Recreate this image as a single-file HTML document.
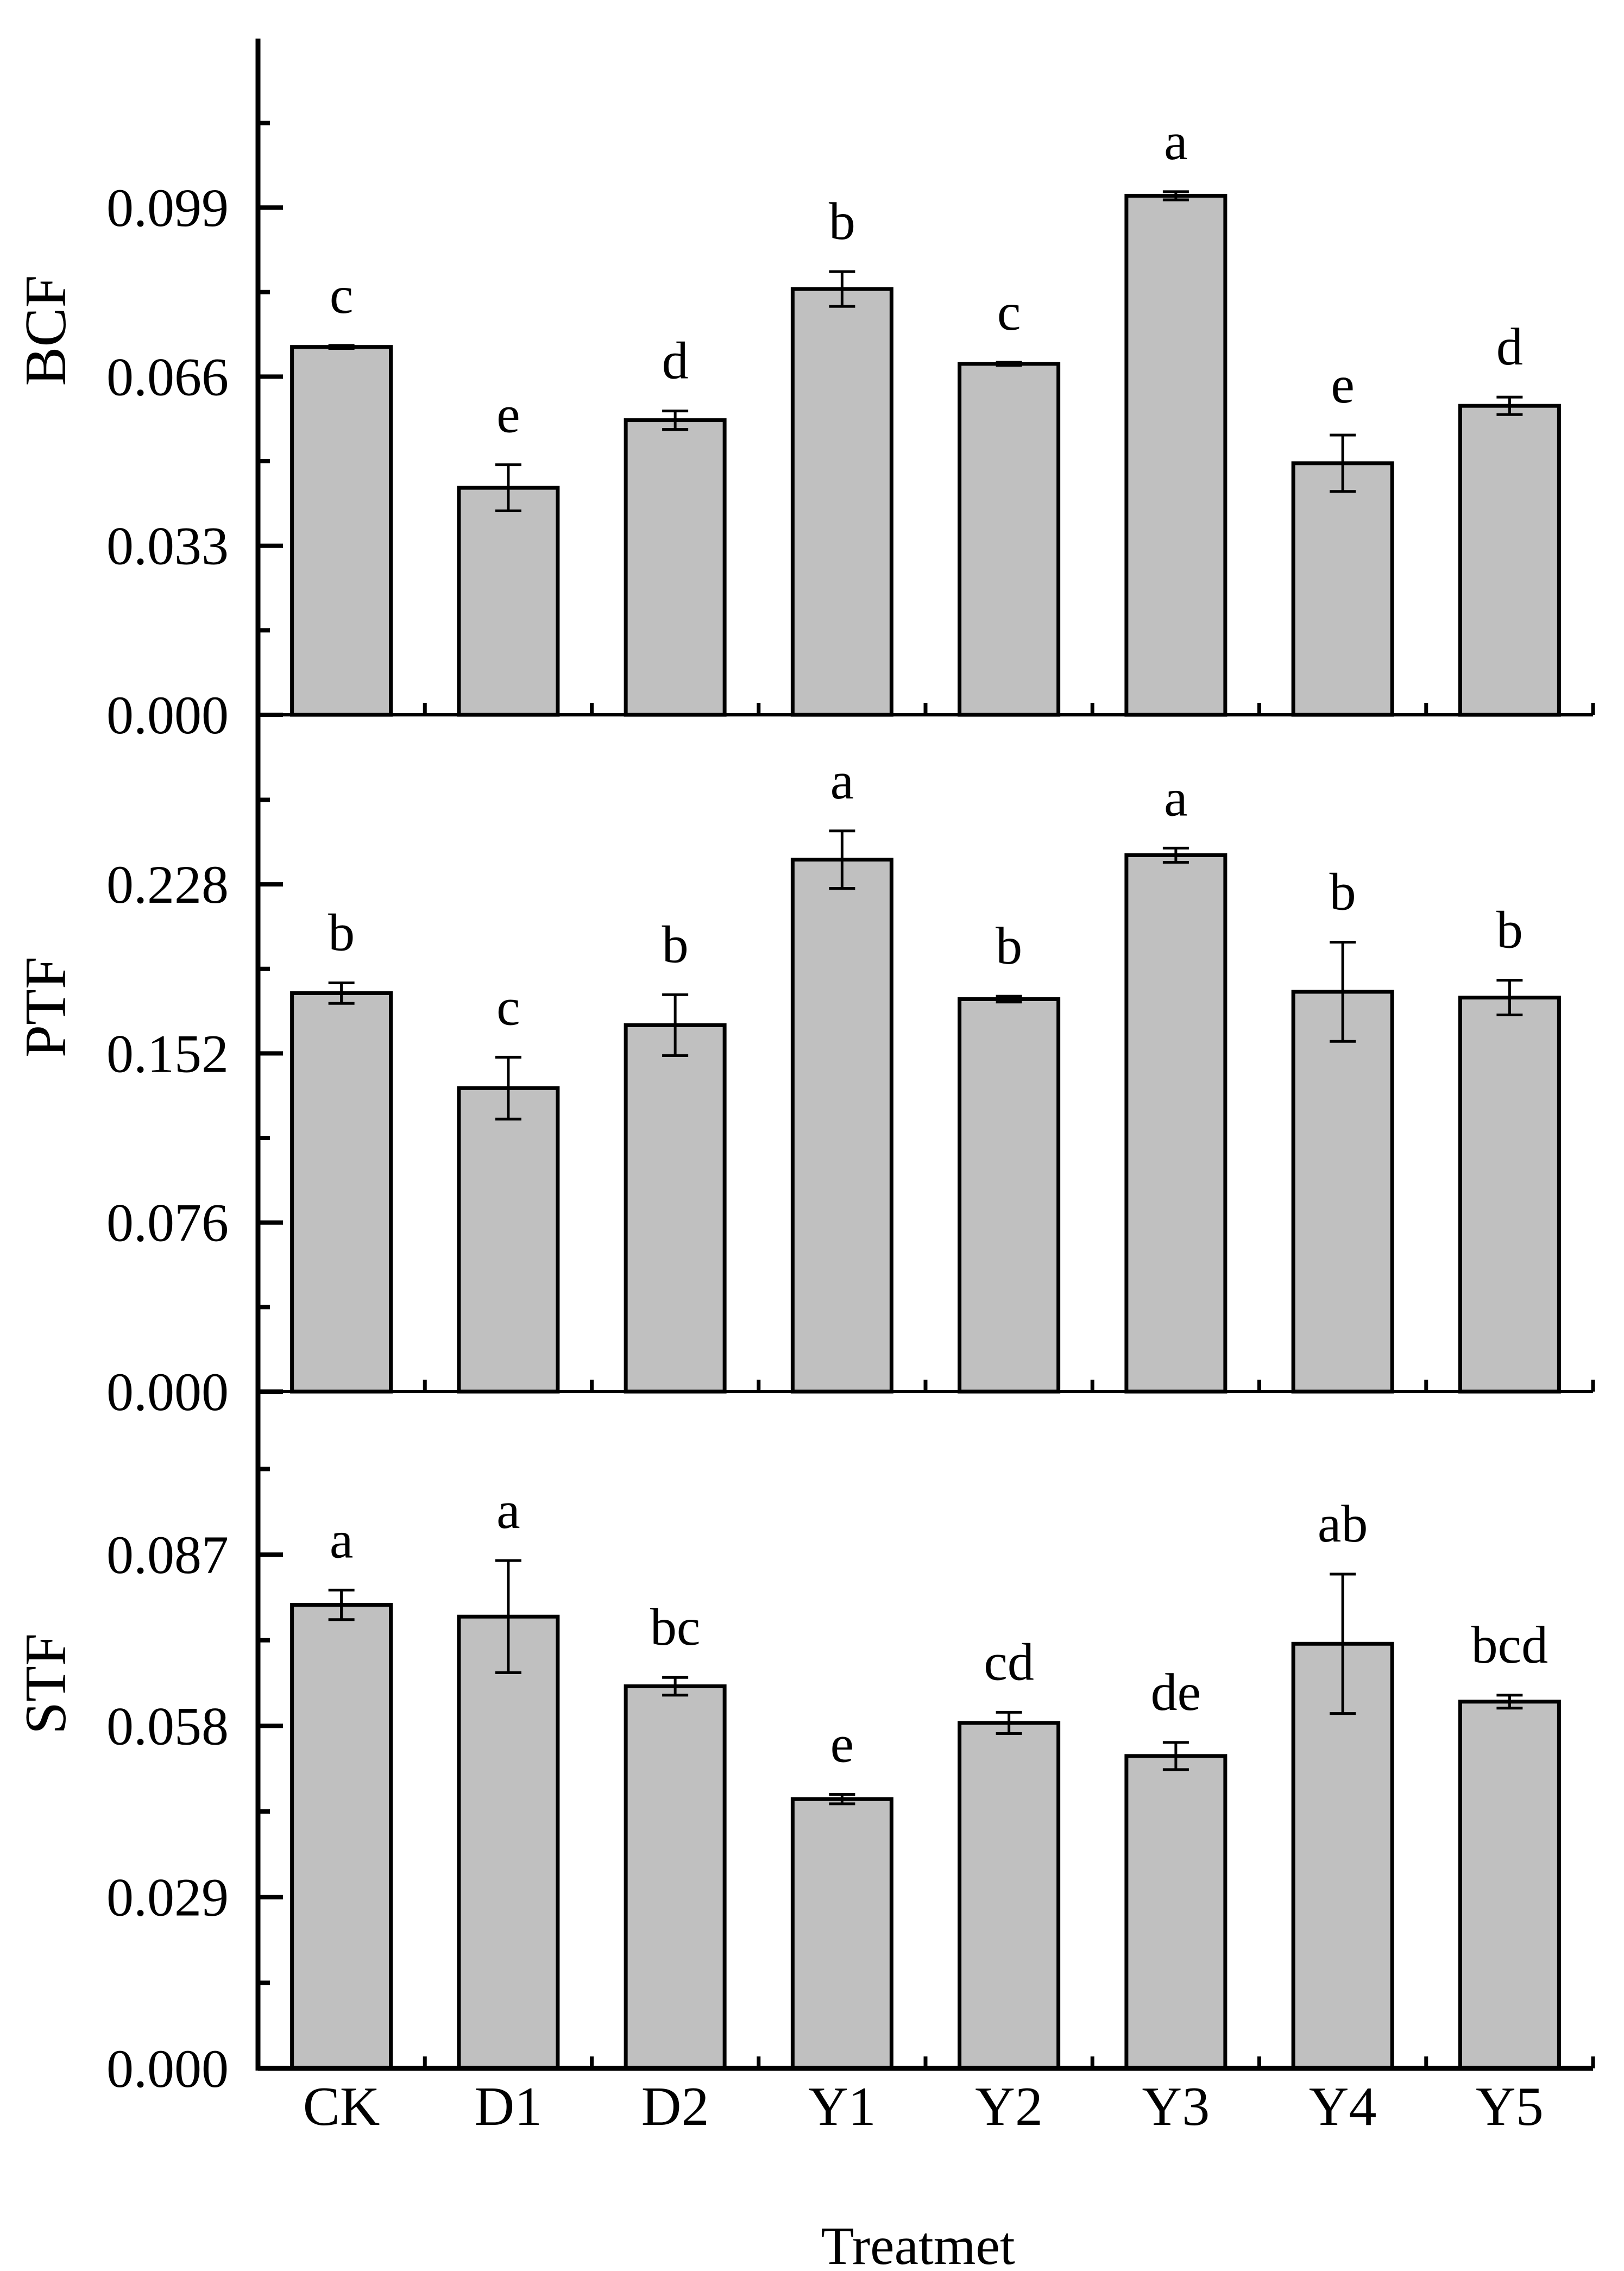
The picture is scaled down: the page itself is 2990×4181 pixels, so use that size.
<!DOCTYPE html>
<html><head><meta charset="utf-8"><style>
html,body{margin:0;padding:0;background:#fff;}
svg{display:block;font-family:"Liberation Serif",serif;}
</style></head><body>
<svg id="chart" width="2990" height="4181" viewBox="0 0 2990 4181" xmlns="http://www.w3.org/2000/svg">
<text x="1690" y="4168" font-size="100" text-anchor="middle">Treatmet</text>
</svg>
<script>
const categories = ["CK","D1","D2","Y1","Y2","Y3","Y4","Y5"];
const bcfValues = [0.0718,0.0443,0.0575,0.0831,0.0685,0.1013,0.0491,0.0603];
const bcfErrors = [0.0003,0.0045,0.0018,0.0034,0.0003,0.0008,0.0055,0.0017];
const bcfLetters = ["c","e","d","b","c","a","e","d"];
const bcfTicks = ["0.000","0.033","0.066","0.099"];
const ptfValues = [0.1791,0.1364,0.1647,0.2391,0.1764,0.2411,0.1797,0.1771];
const ptfErrors = [0.0046,0.0139,0.0137,0.0129,0.0013,0.0032,0.0223,0.0078];
const ptfLetters = ["b","c","b","a","b","a","b","b"];
const ptfTicks = ["0.000","0.076","0.152","0.228"];
const stfValues = [0.0785,0.0765,0.0647,0.0456,0.0585,0.0529,0.0719,0.0621];
const stfErrors = [0.0025,0.0095,0.0015,0.0008,0.0018,0.0023,0.0118,0.0011];
const stfLetters = ["a","a","bc","e","cd","de","ab","bcd"];
const stfTicks = ["0.000","0.029","0.058","0.087"];

const NS="http://www.w3.org/2000/svg";
const svg=document.getElementById('chart');
function mk(tag,attrs,parent){const e=document.createElementNS(NS,tag);for(const k in attrs)e.setAttribute(k,attrs[k]);(parent||svg).appendChild(e);return e;}
const AX=475, XR=2933, pitch=(XR-AX)/categories.length, barW=182;
function xc(i){return AX+pitch*(i+0.5);}

const panels=[
 {name:"bcf",label:"BCF",vals:bcfValues,errs:bcfErrors,letters:bcfLetters,ticks:bcfTicks,zero:1316,top:71,stepPx:311.3},
 {name:"ptf",label:"PTF",vals:ptfValues,errs:ptfErrors,letters:ptfLetters,ticks:ptfTicks,zero:2562,top:1316,stepPx:311.3},
 {name:"stf",label:"STF",vals:stfValues,errs:stfErrors,letters:stfLetters,ticks:stfTicks,zero:3808,top:2562,stepPx:315.3}
];

panels.forEach((p,pi)=>{
  const g=mk('g',{});
  
  
  const step=parseFloat(p.ticks[1]);
  const y=v=>p.zero - v/step*p.stepPx;
  p.vals.forEach((v,i)=>{
    const b=mk('rect',{x:xc(i)-barW/2,y:y(v),width:barW,height:p.zero-y(v),fill:'#c0c0c0',stroke:'#000','stroke-width':7},g);
    
    
    const e=p.errs[i], yt=y(v+e), yb=y(v-e);
    const eb=mk('path',{d:`M${xc(i)},${yt}V${yb}M${xc(i)-24},${yt}H${xc(i)+24}M${xc(i)-24},${yb}H${xc(i)+24}`,stroke:'#000','stroke-width':5,fill:'none'},g);
    
    
    const t=mk('text',{x:xc(i),y:yt-60,'font-size':98,'text-anchor':'middle'},g);
    t.textContent=p.letters[i];
    
    
  });
  const bl=mk('line',{x1:AX,x2:XR,y1:p.zero,y2:p.zero,stroke:'#000','stroke-width':pi==2?9:6},g);
  
  
  for(let k=1;k<=categories.length;k++){
    const xt=mk('line',{x1:AX+pitch*k,x2:AX+pitch*k,y1:p.zero,y2:p.zero-22,stroke:'#000','stroke-width':7},g);
    
    
  }
  p.ticks.forEach((lab,k)=>{
    const ty=y(parseFloat(lab));
    const tk=mk('line',{x1:AX,x2:AX+46,y1:ty,y2:ty,stroke:'#000','stroke-width':8},g);
    
    
    const tl=mk('text',{x:421,y:ty+34,'font-size':100,'text-anchor':'end'},g);
    tl.textContent=lab;
    
    
    const my=y(parseFloat(lab)+step/2);
    const mt=mk('line',{x1:AX,x2:AX+22,y1:my,y2:my,stroke:'#000','stroke-width':8},g);
    
    
  });
  const cy=(p.top+p.zero)/2-85;
  const al=mk('text',{x:0,y:0,'font-size':108,'text-anchor':'middle',transform:`translate(120,${cy}) rotate(-90)`},g);
  al.textContent=p.label;
  
  
});
const ya=mk('line',{x1:AX,x2:AX,y1:71,y2:3812,stroke:'#000','stroke-width':9});


categories.forEach((c,i)=>{
  const t=mk('text',{x:xc(i),y:3912,'font-size':102,'text-anchor':'middle'});
  t.textContent=c;
  
  
});
</script>
</body></html>
